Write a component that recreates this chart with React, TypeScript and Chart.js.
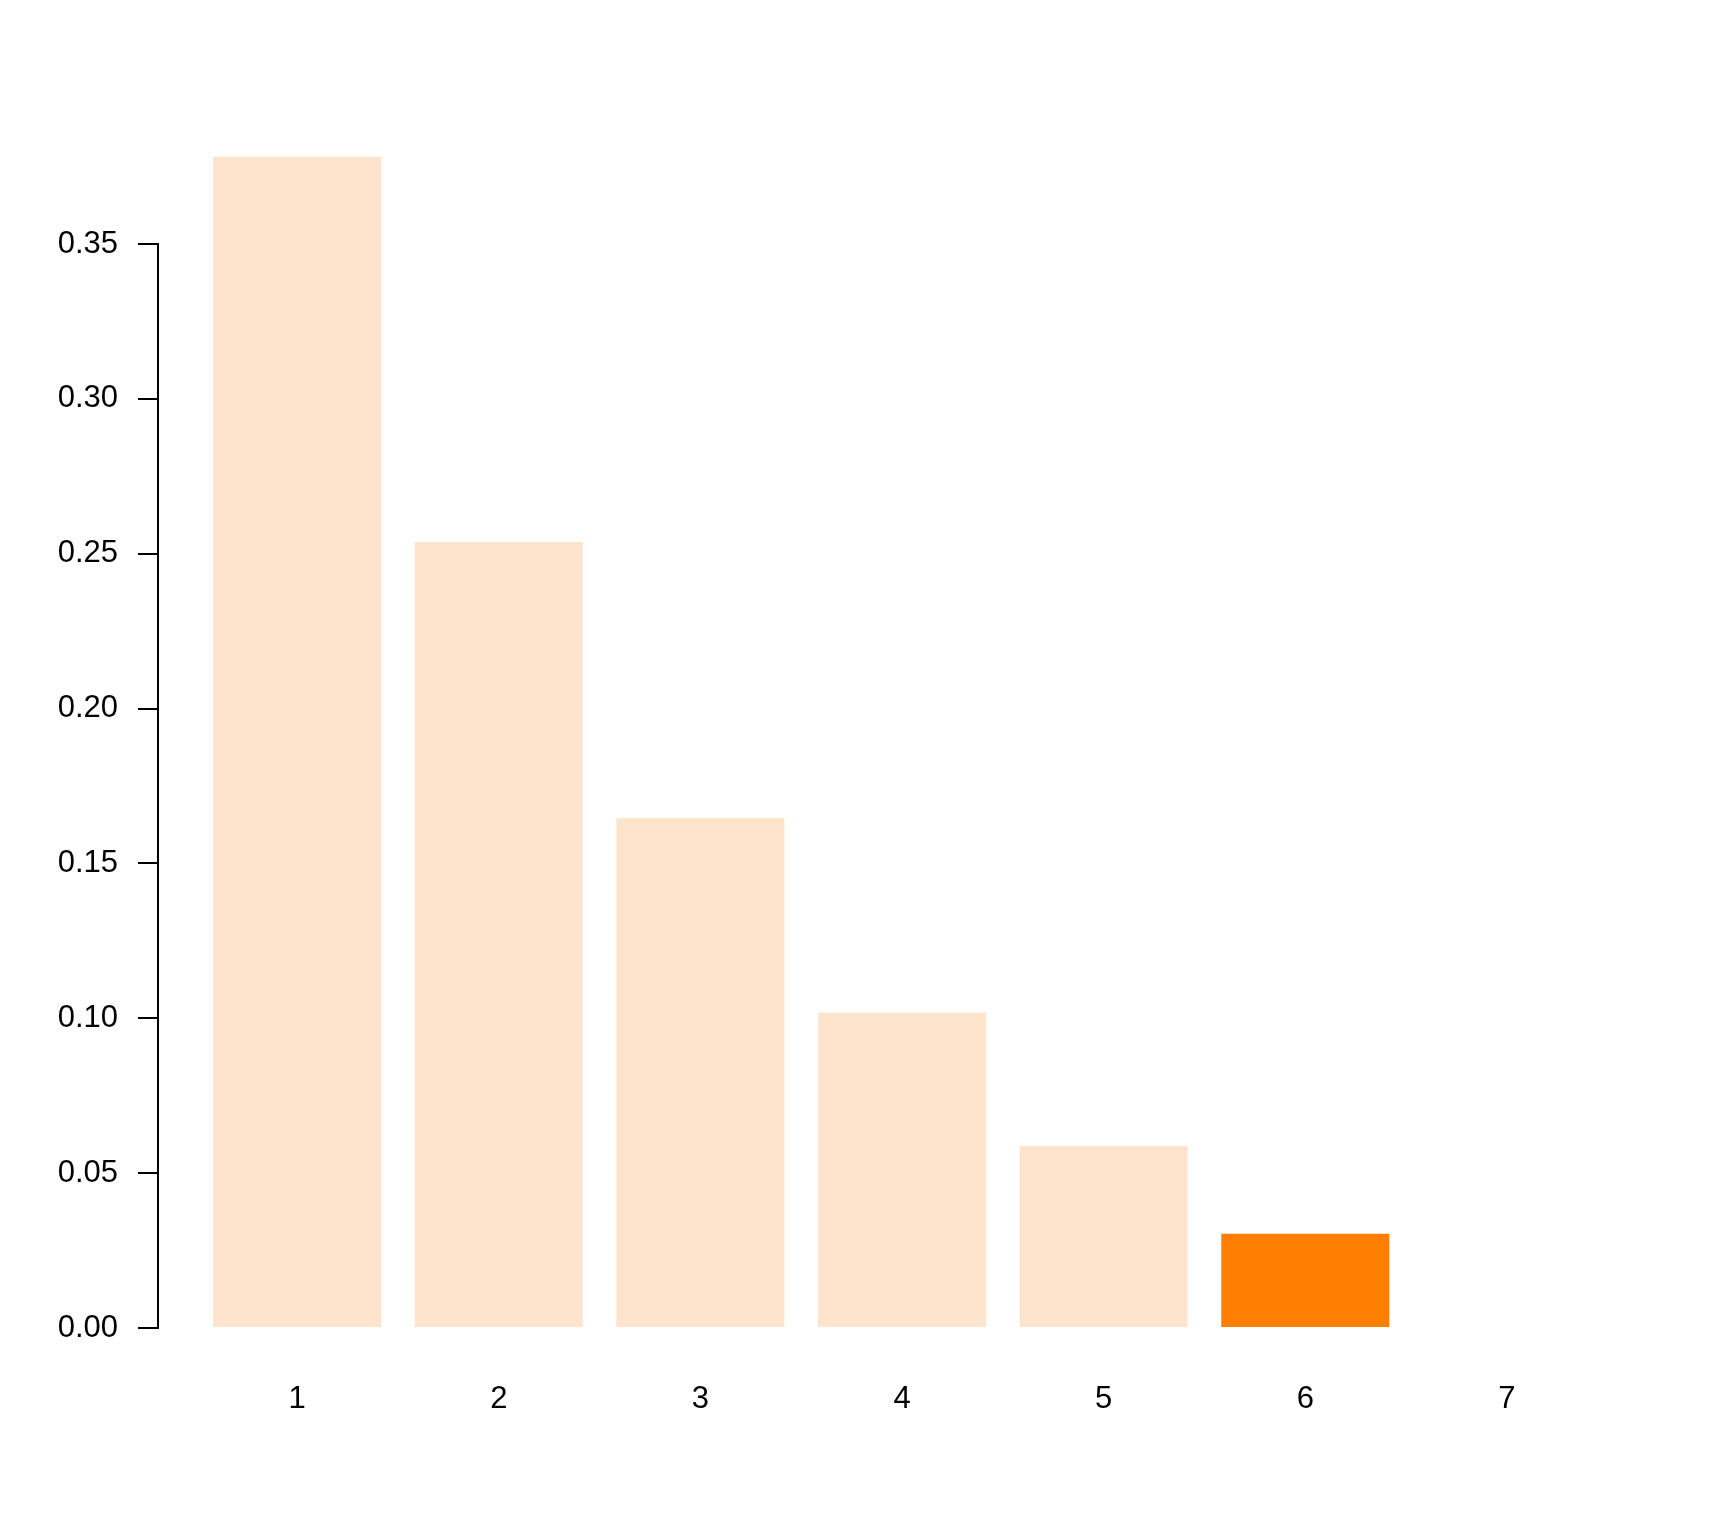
import React, { useEffect, useRef } from "react";
import { Chart, registerables } from "chart.js";

Chart.register(...registerables);

const categories = [1, 2, 3, 4, 5, 6, 7];
const values = [0.3782, 0.2538, 0.1647, 0.1018, 0.0588, 0.0304, 0.0];
const barColors = ["#FEE4CC", "#FEE4CC", "#FEE4CC", "#FEE4CC", "#FEE4CC", "#FF7F00", "#FEE4CC"];
const yTicks = [0, 0.05, 0.1, 0.15, 0.2, 0.25, 0.3, 0.35];
const xPad = 0.69;

export default function App() {
  const ref = useRef<HTMLCanvasElement | null>(null);

  useEffect(() => {
    document.body.style.margin = "0";
    const canvas = ref.current;
    if (!canvas) return;
    const font = { family: "'Liberation Sans', Arial, Helvetica, sans-serif", size: 31 };
    const chart = new Chart(canvas, {
      type: "bar",
      data: {
        labels: categories,
        datasets: [
          {
            data: values,
            backgroundColor: barColors,
            borderWidth: 0,
            barPercentage: 1 / 1.2,
            categoryPercentage: 1,
            clip: false as any,
          },
        ],
      },
      options: {
        responsive: false,
        animation: false,
        devicePixelRatio: 1,
        layout: { padding: { left: 0, right: 82, top: 244, bottom: 108 } },
        plugins: { legend: { display: false }, tooltip: { enabled: false } },
        scales: {
          x: {
            type: "linear",
            offset: false,
            bounds: "data",
            min: categories[0] - xPad,
            max: categories[categories.length - 1] + xPad,
            afterBuildTicks: (scale: any) => {
              scale.ticks = categories.map((v) => ({ value: v }));
            },
            afterFit: (scale: any) => {
              scale.height = 100;
            },
            grid: { display: false, drawTicks: false, offset: false },
            border: { display: false },
            ticks: {
              color: "#000",
              font,
              padding: 53,
              maxRotation: 0,
              autoSkip: false,
              callback: (v: any) => String(v),
            },
          },
          y: {
            type: "linear",
            min: 0,
            max: 0.35,
            afterBuildTicks: (scale: any) => {
              scale.ticks = yTicks.map((v) => ({ value: v }));
            },
            afterFit: (scale: any) => {
              scale.width = 158;
            },
            grid: {
              drawOnChartArea: false,
              drawTicks: true,
              tickLength: 20,
              color: "#000",
              lineWidth: 2,
            },
            border: { display: true, color: "#000", width: 2 },
            ticks: {
              color: "#000",
              font,
              padding: 20,
              callback: (v: any) => Number(v).toFixed(2),
            },
          },
        },
      },
    });
    return () => chart.destroy();
  }, []);

  return (
    <div style={{ width: 1728, height: 1536, background: "#fff" }}>
      <canvas ref={ref} width={1728} height={1536} style={{ display: "block" }} />
    </div>
  );
}
